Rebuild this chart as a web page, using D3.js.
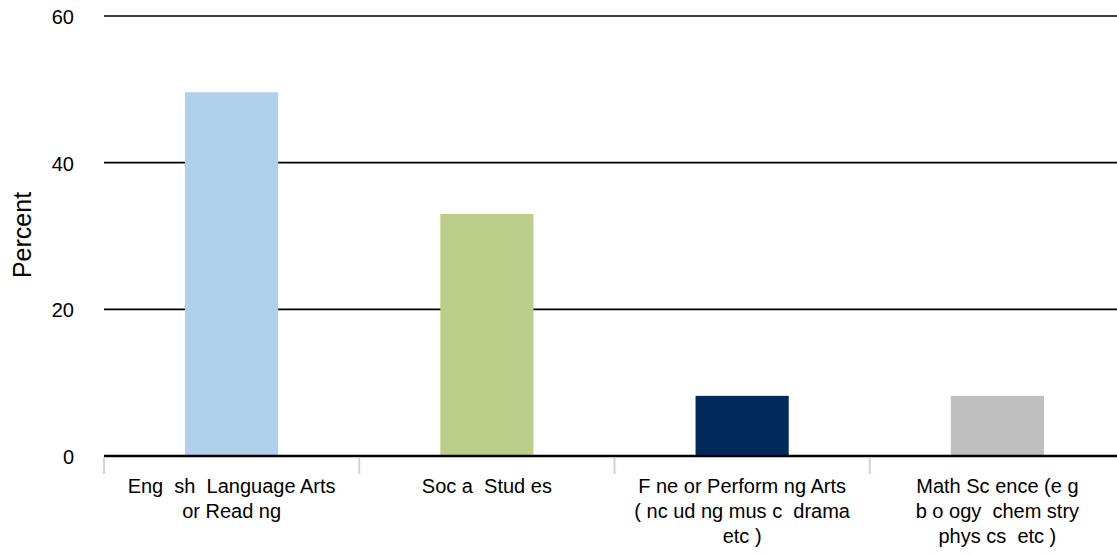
<!DOCTYPE html>
<html>
<head>
<meta charset="utf-8">
<script src="https://cdn.jsdelivr.net/npm/d3@7"></script>
<style>
  html, body { margin: 0; padding: 0; background: #fff; }
  svg { display: block; }
  text { font-family: "Liberation Sans", Arial, sans-serif; fill: #000; white-space: pre; }
</style>
</head>
<body>
<svg id="chart" width="1117" height="555"></svg>
<script>
// Category labels (each entry is the lines of one label)
const categoryLabels = [
  ["Eng  sh  Language Arts", "or Read ng"],
  ["Soc a  Stud es"],
  ["F ne or Perform ng Arts", "( nc ud ng mus c  drama", "etc )"],
  ["Math Sc ence (e g", "b o ogy  chem stry", "phys cs  etc )"]
];
const percentValues = [49.6, 33.0, 8.2, 8.2];
const barColors = ["#AFCFEB", "#BBCF8A", "#002A5C", "#BFBFBF"];
const yTicks = [0, 20, 40, 60];

const svg = d3.select("#chart");
const plotLeft = 104, plotRight = 1125, plotTop = 16, plotBottom = 456;

const x = d3.scaleBand()
  .domain(d3.range(categoryLabels.length))
  .range([plotLeft, plotRight])
  .paddingInner(0.635)
  .paddingOuter(0.3175);

const y = d3.scaleLinear().domain([0, 60]).range([plotBottom, plotTop]);

// horizontal gridlines
svg.append("g")
  .selectAll("line")
  .data(yTicks.filter(d => d !== 0))
  .join("line")
  .attr("x1", plotLeft).attr("x2", 1117)
  .attr("y1", d => y(d)).attr("y2", d => y(d))
  .attr("stroke", "#000").attr("stroke-width", 1.6);

// y tick labels
svg.append("g")
  .selectAll("text")
  .data(yTicks)
  .join("text")
  .attr("x", 74)
  .attr("y", d => y(d) + 8)
  .attr("text-anchor", "end")
  .style("font-size", "20px")
  .text(d => d);

// axis title
svg.append("text")
  .attr("transform", `translate(31,235) rotate(-90)`)
  .attr("text-anchor", "middle")
  .style("font-size", "25px")
  .text("Percent");

// bars
svg.append("g")
  .selectAll("rect")
  .data(percentValues)
  .join("rect")
  .attr("x", (d, i) => x(i))
  .attr("width", x.bandwidth())
  .attr("y", d => y(d))
  .attr("height", d => y(0) - y(d))
  .attr("fill", (d, i) => barColors[i]);

// baseline axis
svg.append("line")
  .attr("x1", plotLeft).attr("x2", 1117)
  .attr("y1", y(0)).attr("y2", y(0))
  .attr("stroke", "#000").attr("stroke-width", 2.5);

// category separator ticks
const step = x.step();
svg.append("g")
  .selectAll("line")
  .data(d3.range(categoryLabels.length + 1))
  .join("line")
  .attr("x1", i => plotLeft + i * step).attr("x2", i => plotLeft + i * step)
  .attr("y1", y(0) + 1.5).attr("y2", y(0) + 18)
  .attr("stroke", "#C9D4EA").attr("stroke-width", 2);

// category labels
const lab = svg.append("g")
  .selectAll("text")
  .data(categoryLabels)
  .join("text")
  .attr("text-anchor", "middle")
  .style("font-size", "20px")
  .attr("transform", (d, i) => `translate(${x(i) + x.bandwidth() / 2},0)`);
lab.selectAll("tspan")
  .data(d => d)
  .join("tspan")
  .attr("x", 0)
  .attr("y", (d, j) => 493 + j * 25)
  .text(d => d);
</script>
</body>
</html>
